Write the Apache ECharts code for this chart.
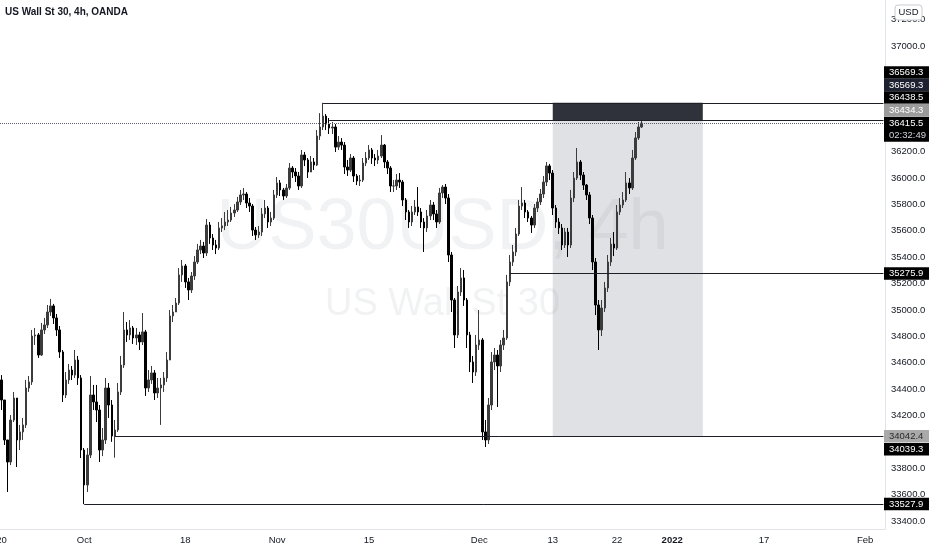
<!DOCTYPE html>
<html>
<head>
<meta charset="utf-8">
<title>US Wall St 30, 4h</title>
<script src="https://cdn.jsdelivr.net/npm/echarts@6/dist/echarts.min.js"></script>
<style>
  html, body { margin: 0; padding: 0; background: #fff; }
  #chart { width: 932px; height: 550px; }
</style>
</head>
<body>
<div id="chart"></div>
<script>
const FONT = '"Liberation Sans Narrow", "Liberation Sans", Arial, sans-serif';

// time scale: 3 bars per trading day, from Sep 20 2021 into Feb 2022
const startDay = '2021-09-20';
const holidays = ['2021-12-24', '2021-12-31'];
const barsPerDay = 3;
const slotCount = 289;

const tickDates = ['2021-09-20', '2021-10-01', '2021-10-18', '2021-11-01', '2021-11-15',
  '2021-12-01', '2021-12-13', '2021-12-22', '2022-01-03', '2022-01-17', '2022-02-01'];
const tickTexts = ['20', 'Oct', '18', 'Nov', '15', 'Dec', '13', '22', '2022', '17', 'Feb'];

// price axis labels hidden behind the price tags
const hiddenTicks = [36800, 36600, 36400, 34000];

// candles
const firstOpen = 34469;
const closes = [
  34317, 34014, 33847, 34165, 34332, 34014, 34075, 34128, 34408, 34454,
  34802, 34810, 34658, 34848, 34886, 34984, 35030, 34939, 34848, 34681,
  34355, 34469, 34544, 34506, 34620, 34484, 33938, 33673, 33900, 34355,
  34302, 34241, 33938, 34014, 34408, 34279, 34044, 34090, 34378, 34582,
  34848, 34810, 34863, 34787, 34810, 34757, 34833, 34408, 34469, 34522,
  34370, 34408, 34431, 34484, 34620, 34954, 34984, 35052, 35265, 35333,
  35212, 35151, 35257, 35363, 35454, 35484, 35431, 35643, 35545, 35492,
  35469, 35621, 35636, 35666, 35681, 35734, 35757, 35818, 35871, 35878,
  35810, 35787, 35605, 35568, 35590, 35727, 35772, 35666, 35696, 35871,
  35962, 35909, 35863, 35924, 36075, 36045, 36015, 35939, 36174, 36136,
  36045, 36121, 36098, 36318, 36386, 36469, 36408, 36378, 36386, 36234,
  36272, 36249, 36083, 36060, 36151, 36015, 35977, 35984, 36113, 36151,
  36212, 36151, 36136, 36166, 36249, 36121, 36075, 35939, 35939, 35984,
  35969, 35833, 35742, 35666, 35742, 35780, 35742, 35666, 35621, 35712,
  35795, 35727, 35666, 35886, 35931, 35848, 35416, 35075, 34810, 35136,
  35242, 35075, 34810, 34605, 34529, 34734, 34772, 34075, 34014, 34279,
  34605, 34658, 34575, 34734, 34787, 35212, 35363, 35439, 35575, 35787,
  35810, 35742, 35696, 35643, 35772, 35818, 35878, 35969, 36091, 36037,
  35772, 35666, 35621, 35492, 35590, 35492, 35848, 35999, 36121, 36022,
  35946, 35871, 35696, 35363, 35037, 34848, 35014, 35166, 35363, 35499,
  35469, 35742, 35795, 35833, 35962, 35924, 36151, 36303, 36386, 36415.5
];
const lows = [
  34241, 33976, 33620, 33824, 34150, 33809, 33938, 34014, 34105, 34378,
  34431, 34734, 34636, 34651, 34817, 34863, 34954, 34893, 34802, 34636,
  34302, 34332, 34439, 34469, 34484, 34431, 33877, 33527.9, 33620, 33877,
  34241, 34150, 33847, 33892, 33984, 34181, 34000, 33880, 34075, 34355,
  34560, 34757, 34772, 34742, 34734, 34696, 34734, 34348, 34378, 34439,
  34317, 34332, 34128, 34378, 34454, 34636, 34908, 34984, 35037, 35212,
  35166, 35075, 35128, 35227, 35348, 35423, 35393, 35408, 35500, 35454,
  35423, 35454, 35590, 35605, 35636, 35666, 35704, 35742, 35795, 35833,
  35772, 35742, 35560, 35530, 35545, 35560, 35696, 35621, 35636, 35681,
  35848, 35863, 35833, 35848, 35909, 36000, 35969, 35909, 35924, 36090,
  36000, 36060, 36060, 36090, 36288, 36363, 36363, 36333, 36333, 36197,
  36212, 36212, 36030, 36015, 36045, 35969, 35946, 35939, 35969, 36090,
  36136, 36106, 36090, 36106, 36151, 36075, 36030, 35893, 35893, 35909,
  35924, 35787, 35681, 35621, 35636, 35719, 35712, 35621, 35439, 35590,
  35681, 35681, 35621, 35651, 35848, 35802, 35363, 34984, 34711, 34787,
  35105, 35030, 34711, 34529, 34446, 34499, 34696, 34014, 33961, 33984,
  34241, 34544, 34264, 34529, 34696, 34772, 35181, 35333, 35408, 35560,
  35757, 35696, 35666, 35583, 35621, 35742, 35795, 35848, 35939, 35984,
  35719, 35621, 35575, 35454, 35469, 35401, 35469, 35817, 35984, 35984,
  35909, 35833, 35651, 35302, 34961, 34696, 34802, 34984, 35136, 35333,
  35408, 35454, 35719, 35772, 35818, 35878, 35909, 36136, 36288, 36379
];
const highs = [
  34506, 34279, 34014, 34203, 34378, 34332, 34128, 34181, 34469, 34499,
  34848, 34863, 34825, 34901, 34939, 35037, 35083, 35045, 34969, 34878,
  34696, 34529, 34590, 34575, 34696, 34651, 34506, 33953, 33953, 34499,
  34431, 34431, 34279, 34105, 34484, 34446, 34317, 34165, 34446, 34651,
  34984, 34908, 34923, 34878, 34863, 34833, 34976, 34848, 34544, 34575,
  34544, 34484, 34484, 34529, 34681, 34999, 35037, 35090, 35317, 35378,
  35348, 35242, 35287, 35408, 35500, 35530, 35515, 35689, 35666, 35575,
  35530, 35666, 35696, 35742, 35757, 35780, 35802, 35856, 35909, 35924,
  35893, 35848, 35802, 35628, 35636, 35772, 35833, 35787, 35742, 35909,
  36007, 35984, 35924, 35954, 36113, 36090, 36075, 36045, 36212, 36197,
  36151, 36166, 36151, 36363, 36491, 36569.3, 36484, 36454, 36424, 36408,
  36318, 36302, 36272, 36136, 36181, 36166, 36030, 36022, 36151, 36197,
  36249, 36227, 36181, 36212, 36325, 36257, 36136, 36090, 35984, 36030,
  36037, 35984, 35848, 35757, 35787, 35833, 35931, 35772, 35696, 35757,
  35833, 35818, 35757, 35924, 35946, 35954, 35878, 35439, 35090, 35181,
  35317, 35302, 35090, 34833, 34651, 34810, 34999, 34787, 34165, 34332,
  34681, 34711, 34696, 34772, 34848, 35265, 35416, 35492, 35621, 35833,
  35931, 35833, 35757, 35712, 35802, 35848, 35916, 36015, 36121, 36106,
  36060, 35795, 35696, 35651, 35621, 35621, 35909, 36045, 36227, 36136,
  36045, 35954, 35893, 35719, 35393, 35075, 35075, 35212, 35416, 35545,
  35590, 35795, 35848, 35893, 36045, 35999, 36212, 36348, 36424, 36439
];

// drawn horizontal rays: price and the bar they start from
const rayPrices = [36569.3, 36434.3, 35275.9, 34042.4, 33527.9];
const rayStartBars = [105, 107, 166, 37, 27];
const lastPrice = 36415.5;

// position tool
const posStop = 36569.3;
const posEntry = 36438.5;
const posTarget = 34042.4;
const posFromBar = 180;
const posToBar = 229;

// tags on the price scale
const tagTexts = ['36569.3', '36569.3', '36438.5', '36434.3', '36415.5', '35275.9', '34042.4', '34039.3', '33527.9'];
const tagPrices = [36569.3, 36569.3, 36438.5, 36434.3, 36415.5, 35275.9, 34042.4, 34039.3, 33527.9];
const tagShift = [-30.3, -17.8, -22.5, -10.6, 0, 0, 0, 12.7, 0];
const tagBg = ['#000000', '#1d2130', '#000000', '#9b9b9b', '#000000', '#000000', '#a9a9a9', '#000000', '#000000'];
const tagFg = ['#ffffff', '#ffffff', '#ffffff', '#ffffff', '#ffffff', '#ffffff', '#2a2a2a', '#ffffff', '#ffffff'];
const countdown = '02:32:49';

// build the bar slots
const slots = [];
const d = new Date(startDay + 'T00:00:00Z');
while (slots.length < slotCount) {
  const wd = d.getUTCDay();
  const iso = d.toISOString().slice(0, 10);
  if (wd !== 0 && wd !== 6 && holidays.indexOf(iso) < 0) {
    for (let k = 0; k < barsPerDay && slots.length < slotCount; k++) {
      slots.push(iso + '#' + k);
    }
  }
  d.setUTCDate(d.getUTCDate() + 1);
}
const tickMap = {};
tickDates.forEach((t, i) => { tickMap[t + '#0'] = tickTexts[i]; });

const candles = closes.map((c, i) => {
  const o = i === 0 ? firstOpen : closes[i - 1];
  return [o, c, Math.min(lows[i], o, c), Math.max(highs[i], o, c)];
});

const rays = rayPrices.map((p, i) => [
  { coord: [rayStartBars[i], p] },
  { coord: [slotCount - 1, p] }
]);

const chart = echarts.init(document.getElementById('chart'));

const option = {
  animation: false,
  backgroundColor: '#ffffff',
  textStyle: { fontFamily: FONT },
  grid: { left: 0, right: 47, top: 0, bottom: 21, containLabel: false, outerBoundsMode: 'none' },
  xAxis: {
    type: 'category',
    data: slots,
    boundaryGap: true,
    axisLine: { show: true, lineStyle: { color: '#e0e3eb' } },
    axisTick: { show: false },
    splitLine: { show: false },
    axisLabel: {
      interval: (idx, val) => !!tickMap[val],
      formatter: (val) => {
        const t = tickMap[val] || '';
        return t === '2022' ? '{b|2022}' : t;
      },
      color: '#131722',
      fontSize: 9.5,
      fontFamily: FONT,
      margin: 6,
      rich: { b: { fontWeight: 'bold', fontSize: 9.5, color: '#131722', fontFamily: FONT } }
    }
  },
  yAxis: {
    type: 'value',
    position: 'right',
    min: 33339.3,
    max: 37348.6,
    splitNumber: 20,
    axisLine: { show: true, lineStyle: { color: '#e0e3eb' } },
    axisTick: { show: false },
    splitLine: { show: false },
    axisLabel: {
      margin: 6,
      color: '#131722',
      fontSize: 9.5,
      fontFamily: FONT,
      showMinLabel: false,
      showMaxLabel: false,
      formatter: (v) => (Math.abs(v % 200) < 1e-6 && hiddenTicks.indexOf(Math.round(v)) < 0) ? v.toFixed(1) : ''
    }
  },
  series: [
    {
      name: 'position',
      type: 'line',
      data: [],
      silent: true,
      z: 1,
      markArea: {
        silent: true,
        data: [
          [{ coord: [posFromBar, posStop], itemStyle: { color: '#2f323b' } }, { coord: [posToBar, posEntry] }],
          [{ coord: [posFromBar, posEntry], itemStyle: { color: '#e0e1e5' } }, { coord: [posToBar, posTarget] }]
        ]
      }
    },
    {
      name: 'US30USD',
      type: 'candlestick',
      data: candles,
      z: 3,
      barWidth: 2,
      itemStyle: {
        color: '#3c3c3c',
        color0: '#000000',
        borderColor: '#3c3c3c',
        borderColor0: '#000000',
        borderWidth: 1
      },
      markLine: {
        silent: true,
        symbol: ['none', 'none'],
        label: { show: false },
        lineStyle: { color: '#1c1f26', width: 1, type: 'solid' },
        data: rays.concat([
          { yAxis: lastPrice, lineStyle: { color: '#5d606b', width: 1, type: 'dotted' } }
        ])
      }
    }
  ]
};

chart.setOption(option);

// overlay texts: title, watermark, currency box and price tags
const graphics = [
  {
    type: 'text', left: 5, top: 7, z: 10,
    style: { text: 'US Wall St 30, 4h, OANDA', fill: '#131722', font: 'bold 10px ' + FONT }
  },
  {
    type: 'text', x: 442.5, y: 229, z: 2, silent: true,
    style: { text: 'US30USD, 4h', fill: 'rgba(120,123,134,0.10)', font: '72px ' + FONT,
      textAlign: 'center', textVerticalAlign: 'middle' }
  },
  {
    type: 'text', x: 442.5, y: 305, z: 2, silent: true,
    style: { text: 'US Wall St 30', fill: 'rgba(120,123,134,0.10)', font: '38px ' + FONT,
      textAlign: 'center', textVerticalAlign: 'middle' }
  },
  {
    type: 'rect', z: 10,
    shape: { x: 895, y: 5, width: 27, height: 15, r: 3 },
    style: { fill: '#ffffff', stroke: '#c9cbd1', lineWidth: 1 }
  },
  {
    type: 'text', x: 908.5, y: 12.5, z: 11,
    style: { text: 'USD', fill: '#131722', font: '9.5px ' + FONT, textAlign: 'center', textVerticalAlign: 'middle' }
  }
];

tagPrices.forEach((p, i) => {
  const yc = chart.convertToPixel({ yAxisIndex: 0 }, p) + tagShift[i];
  const isLast = p === lastPrice;
  const h = isLast ? 25 : 12.5;
  graphics.push({
    type: 'rect', z: 20,
    shape: { x: 884, y: yc - 6.25, width: 45, height: h },
    style: { fill: tagBg[i] }
  });
  graphics.push({
    type: 'text', x: 889, y: yc, z: 21,
    style: { text: tagTexts[i], fill: tagFg[i], font: '9.5px ' + FONT, textVerticalAlign: 'middle' }
  });
  if (isLast) {
    graphics.push({
      type: 'text', x: 889, y: yc + 12.5, z: 21,
      style: { text: countdown, fill: '#d1d4dc', font: '9.5px ' + FONT, textVerticalAlign: 'middle' }
    });
  }
});

chart.setOption({ graphic: graphics });
</script>
</body>
</html>
